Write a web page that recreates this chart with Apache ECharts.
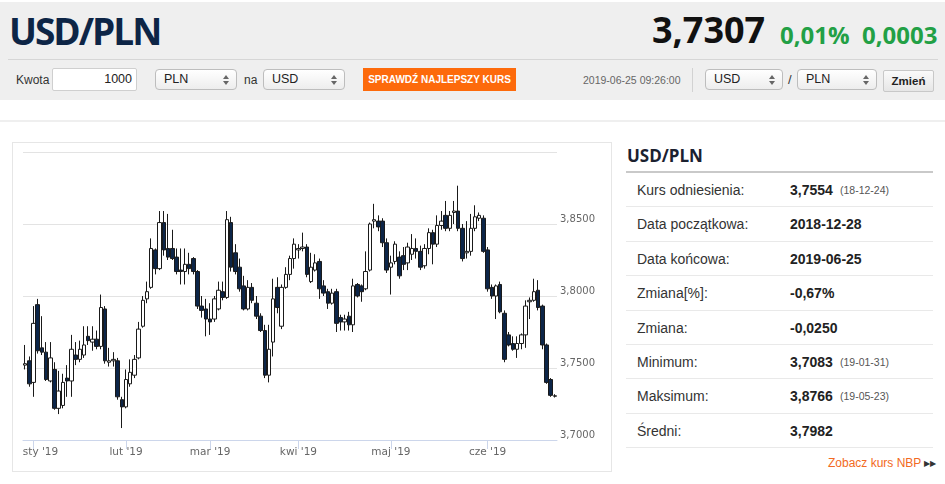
<!DOCTYPE html>
<html><head><meta charset="utf-8">
<script src="https://cdn.jsdelivr.net/npm/echarts@6/dist/echarts.min.js"></script>
<style>
body{margin:0;width:945px;height:484px;overflow:hidden;background:#fff;font-family:'Liberation Sans',Arial,sans-serif;position:relative}
.a{position:absolute;white-space:nowrap}
.sel{position:absolute;height:21px;border:1px solid #bdbdbd;border-radius:4px;background:linear-gradient(#ffffff,#ededed);font-size:12.5px;color:#222;line-height:19px;box-sizing:border-box;padding-left:8px}
.sel i{position:absolute;right:7px;width:0;height:0;border-left:3px solid transparent;border-right:3px solid transparent}
.sel i.u{top:5px;border-bottom:4px solid #666}
.sel i.d{top:11px;border-top:4px solid #666}
.row{position:absolute;left:626px;width:307px;height:34.4px;border-bottom:1px solid #e9e9e9;box-sizing:border-box;font-size:14px;color:#333}
.row span{position:absolute;top:0;line-height:34px}
.row .l{left:11px}
.row .v{left:164px;font-weight:bold;color:#222}
.row .s{left:214px;font-size:10.5px;color:#555}
</style></head><body>
<div class="a" style="left:0;top:2px;width:945px;height:98px;background:#efefef"></div>
<div class="a" style="left:9px;top:12px;font:700 37px/37px 'Open Sans';color:#0d2546;letter-spacing:-2px">USD/PLN</div>
<div class="a" style="left:652px;top:12px;font:700 36px/36px 'Open Sans';color:#111">3,7307</div>
<div class="a" style="left:780px;top:22.5px;font:700 24px/24px 'Open Sans';color:#22a045">0,01%</div>
<div class="a" style="left:862px;top:22.5px;font:700 24px/24px 'Open Sans';color:#22a045">0,0003</div>
<div class="a" style="left:8px;top:59px;width:930px;height:1px;background:#d6d6d6"></div>

<div class="a" style="left:16px;top:73px;font-size:12px;line-height:14px;color:#333">Kwota</div>
<div class="a" style="left:52px;top:68px;width:85px;height:23px;box-sizing:border-box;border:1px solid #cfcfcf;border-radius:2px;background:#fff;font-size:12.5px;line-height:21px;text-align:right;padding-right:4px;color:#222">1000</div>
<div class="sel" style="left:155px;top:69px;width:82px">PLN<i class="u"></i><i class="d"></i></div>
<div class="a" style="left:244px;top:73px;font-size:12px;line-height:14px;color:#333">na</div>
<div class="sel" style="left:263px;top:69px;width:82px">USD<i class="u"></i><i class="d"></i></div>
<div class="a" style="left:363px;top:68px;width:153px;height:23px;background:#fd6a0b;color:#fff;font-weight:bold;font-size:10px;line-height:23px;text-align:center">SPRAWDŹ NAJLEPSZY KURS</div>
<div class="a" style="left:583px;top:73px;font-size:10.5px;line-height:14px;color:#666">2019-06-25 09:26:00</div>
<div class="a" style="left:692px;top:68px;width:1px;height:24px;background:#d2d2d2"></div>
<div class="sel" style="left:705px;top:69px;width:78px">USD<i class="u"></i><i class="d"></i></div>
<div class="a" style="left:788px;top:73px;font-size:13px;line-height:14px;color:#333">/</div>
<div class="sel" style="left:797px;top:69px;width:80px">PLN<i class="u"></i><i class="d"></i></div>
<div class="a" style="left:883px;top:70px;width:51px;height:22px;box-sizing:border-box;border:1px solid #c8c8c8;border-radius:2px;background:linear-gradient(#fafafa,#e6e6e6);font-weight:bold;font-size:11.5px;line-height:20px;text-align:center;color:#222">Zmień</div>

<div class="a" style="left:0;top:120px;width:945px;height:2px;background:#efefef"></div>
<div class="a" style="left:12px;top:142px;width:598px;height:328px;border:1px solid #e6e6e6"></div>
<div id="c" class="a" style="left:12px;top:142px;width:599px;height:329px"></div>

<div class="a" style="left:627px;top:147px;font:700 17px/17px 'Open Sans';color:#1b2130">USD/PLN</div>
<div class="a" style="left:626px;top:171px;width:307px;height:2px;background:#c9c9c9"></div>
<div class="row" style="top:173px"><span class="l">Kurs odniesienia:</span><span class="v">3,7554</span><span class="s">(18-12-24)</span></div>
<div class="row" style="top:207.4px"><span class="l">Data początkowa:</span><span class="v">2018-12-28</span></div>
<div class="row" style="top:241.8px"><span class="l">Data końcowa:</span><span class="v">2019-06-25</span></div>
<div class="row" style="top:276.2px"><span class="l">Zmiana[%]:</span><span class="v">-0,67%</span></div>
<div class="row" style="top:310.6px"><span class="l">Zmiana:</span><span class="v">-0,0250</span></div>
<div class="row" style="top:345px"><span class="l">Minimum:</span><span class="v">3,7083</span><span class="s">(19-01-31)</span></div>
<div class="row" style="top:379.4px"><span class="l">Maksimum:</span><span class="v">3,8766</span><span class="s">(19-05-23)</span></div>
<div class="row" style="top:413.8px"><span class="l">Średni:</span><span class="v">3,7982</span></div>
<div class="a" style="left:828px;top:456px;font-size:12px;line-height:14px;color:#f26a22">Zobacz kurs NBP <span style="font-size:8px;color:#333;vertical-align:1px">▶▶</span></div>

<script>
const dates = [
'2018-12-28','2018-12-31',
'2019-01-02','2019-01-03','2019-01-04','2019-01-07','2019-01-08','2019-01-09','2019-01-10','2019-01-11',
'2019-01-14','2019-01-15','2019-01-16','2019-01-17','2019-01-18','2019-01-21','2019-01-22','2019-01-23','2019-01-24','2019-01-25',
'2019-01-28','2019-01-29','2019-01-30','2019-01-31',
'2019-02-01','2019-02-04','2019-02-05','2019-02-06','2019-02-07','2019-02-08','2019-02-11','2019-02-12','2019-02-13','2019-02-14','2019-02-15',
'2019-02-18','2019-02-19','2019-02-20','2019-02-21','2019-02-22','2019-02-25','2019-02-26','2019-02-27','2019-02-28',
'2019-03-01','2019-03-04','2019-03-05','2019-03-06','2019-03-07','2019-03-08','2019-03-11','2019-03-12','2019-03-13','2019-03-14','2019-03-15',
'2019-03-18','2019-03-19','2019-03-20','2019-03-21','2019-03-22','2019-03-25','2019-03-26','2019-03-27','2019-03-28','2019-03-29',
'2019-04-01','2019-04-02','2019-04-03','2019-04-04','2019-04-05','2019-04-08','2019-04-09','2019-04-10','2019-04-11','2019-04-12',
'2019-04-15','2019-04-16','2019-04-17','2019-04-18','2019-04-19','2019-04-22','2019-04-23','2019-04-24','2019-04-25','2019-04-26','2019-04-29','2019-04-30',
'2019-05-01','2019-05-02','2019-05-03','2019-05-06','2019-05-07','2019-05-08','2019-05-09','2019-05-10','2019-05-13','2019-05-14','2019-05-15','2019-05-16','2019-05-17',
'2019-05-20','2019-05-21','2019-05-22','2019-05-23','2019-05-24','2019-05-27','2019-05-28','2019-05-29','2019-05-30','2019-05-31',
'2019-06-03','2019-06-04','2019-06-05','2019-06-06','2019-06-07','2019-06-10','2019-06-11','2019-06-12','2019-06-13','2019-06-14',
'2019-06-17','2019-06-18','2019-06-19','2019-06-20','2019-06-21','2019-06-24','2019-06-25'
];
const opens = [
3.752,3.755,3.740,3.794,3.764,3.761,3.741,3.749,3.722,3.724,
3.743,3.741,3.759,3.756,3.759,3.772,3.768,3.770,3.765,3.791,
3.754,3.755,3.755,3.728,3.723,3.739,3.745,3.757,3.779,3.798,
3.806,3.832,3.819,3.851,3.833,3.833,3.827,3.818,3.817,3.822,
3.826,3.817,3.793,3.791,3.784,3.784,3.791,3.803,3.799,3.851,
3.830,3.820,3.807,3.791,3.806,3.795,3.786,3.776,3.745,3.768,
3.806,3.779,3.806,3.815,3.826,3.832,3.833,3.834,3.810,3.818,
3.824,3.807,3.803,3.795,3.803,3.785,3.782,3.786,3.780,3.808,
3.807,3.805,3.818,3.852,3.852,3.852,3.837,3.820,3.824,3.827,
3.828,3.823,3.829,3.833,3.831,3.821,3.833,3.844,3.836,3.849,
3.856,3.847,3.858,3.859,3.847,3.830,3.831,3.847,3.854,3.854,
3.832,3.806,3.800,3.808,3.788,3.773,3.767,3.763,3.767,3.773,
3.796,3.797,3.804,3.793,3.766,3.742,3.7304];
const closes = [
3.753,3.739,3.781,3.762,3.761,3.742,3.757,3.722,3.734,3.740,
3.741,3.763,3.756,3.763,3.766,3.769,3.770,3.765,3.792,3.755,
3.755,3.756,3.730,3.723,3.742,3.747,3.756,3.777,3.797,3.803,
3.833,3.819,3.851,3.832,3.827,3.826,3.817,3.817,3.822,3.819,
3.817,3.793,3.790,3.784,3.782,3.798,3.804,3.799,3.853,3.820,
3.817,3.805,3.791,3.806,3.797,3.786,3.776,3.745,3.763,3.798,
3.792,3.806,3.815,3.826,3.836,3.833,3.834,3.815,3.820,3.823,
3.805,3.802,3.795,3.802,3.781,3.782,3.784,3.780,3.807,3.800,
3.803,3.817,3.850,3.853,3.848,3.837,3.818,3.823,3.836,3.814,
3.822,3.834,3.833,3.831,3.820,3.833,3.844,3.836,3.849,3.852,
3.847,3.856,3.859,3.847,3.826,3.831,3.847,3.855,3.856,3.831,
3.805,3.800,3.807,3.789,3.756,3.766,3.763,3.767,3.773,3.793,
3.797,3.803,3.792,3.766,3.740,3.731,3.7307];
const lows = [
3.749,3.737,3.730,3.760,3.759,3.741,3.740,3.721,3.718,3.722,
3.730,3.730,3.752,3.754,3.757,3.766,3.762,3.763,3.763,3.753,
3.751,3.751,3.728,3.7083,3.722,3.737,3.743,3.756,3.778,3.795,
3.805,3.815,3.818,3.828,3.825,3.825,3.815,3.808,3.808,3.815,
3.815,3.791,3.785,3.772,3.773,3.782,3.790,3.797,3.798,3.817,
3.815,3.803,3.790,3.790,3.795,3.784,3.775,3.743,3.740,3.758,
3.788,3.777,3.805,3.811,3.819,3.826,3.831,3.813,3.809,3.817,
3.798,3.800,3.791,3.794,3.775,3.776,3.776,3.776,3.775,3.799,
3.796,3.804,3.817,3.847,3.845,3.834,3.816,3.801,3.822,3.812,
3.818,3.818,3.825,3.826,3.818,3.819,3.829,3.822,3.834,3.846,
3.845,3.845,3.850,3.845,3.824,3.826,3.828,3.845,3.852,3.830,
3.803,3.798,3.784,3.788,3.754,3.765,3.762,3.757,3.763,3.764,
3.784,3.796,3.790,3.763,3.739,3.730,3.7295];
const highs = [
3.766,3.758,3.793,3.798,3.786,3.768,3.768,3.754,3.748,3.746,
3.752,3.773,3.768,3.769,3.779,3.779,3.779,3.776,3.801,3.793,
3.764,3.761,3.757,3.730,3.749,3.756,3.759,3.782,3.800,3.810,
3.840,3.833,3.859,3.859,3.857,3.846,3.833,3.833,3.833,3.830,
3.827,3.818,3.800,3.798,3.795,3.800,3.810,3.810,3.859,3.855,
3.836,3.826,3.814,3.811,3.809,3.800,3.788,3.780,3.780,3.812,
3.813,3.808,3.820,3.828,3.840,3.836,3.844,3.836,3.830,3.829,
3.826,3.811,3.805,3.805,3.805,3.787,3.787,3.789,3.812,3.809,
3.808,3.831,3.851,3.864,3.856,3.854,3.840,3.828,3.838,3.831,
3.834,3.837,3.843,3.840,3.835,3.836,3.847,3.846,3.856,3.859,
3.866,3.859,3.866,3.8766,3.850,3.852,3.857,3.863,3.858,3.856,
3.834,3.808,3.808,3.810,3.790,3.775,3.772,3.772,3.774,3.797,
3.799,3.812,3.811,3.794,3.767,3.743,3.7318];
const tickDates = ['2019-01-02','2019-02-01','2019-03-01','2019-04-01','2019-05-01','2019-06-03'];
const tickLabels = ["sty '19","lut '19","mar '19","kwi '19","maj '19","cze '19"];
const yMin = 3.70, yMax = 3.90, yStep = 0.05;

const chart = echarts.init(document.getElementById('c'), null, {renderer:'canvas'});
const isTick = (i, v) => tickDates.indexOf(v) >= 0;
chart.setOption({
  animation: false,
  grid: {left: 11, right: 54, top: 10, bottom: 31},
  xAxis: {
    type: 'category', data: dates, boundaryGap: true,
    axisLine: {lineStyle: {color: '#ccd6eb'}},
    axisTick: {show: true, alignWithLabel: true, interval: isTick, length: 9, lineStyle: {color: '#ccd6eb'}},
    axisLabel: {
      interval: isTick, margin: 7, color: '#666', fontSize: 10.5, fontFamily: 'DejaVu Sans',
      formatter: function (v) {
        const k = tickDates.indexOf(v);
        if (k < 0) return '';
        return k === 0 ? '{f|' + tickLabels[k] + '}' : tickLabels[k];
      },
      rich: {f: {padding: [0, 0, 0, 14], color: '#666', fontSize: 10.5, fontFamily: 'DejaVu Sans'}}
    },
    splitLine: {show: false}
  },
  yAxis: {
    type: 'value', position: 'right', min: yMin, max: yMax, interval: yStep,
    axisLine: {show: false}, axisTick: {show: false},
    splitLine: {lineStyle: {color: '#e3e3e3'}},
    axisLabel: {
      showMaxLabel: false, margin: 3, color: '#666', fontSize: 10, fontFamily: 'DejaVu Sans', verticalAlign: 'bottom',
      formatter: v => v.toFixed(4).replace('.', ',')
    }
  },
  series: [{
    type: 'candlestick',
    data: dates.map((d, i) => [opens[i], closes[i], lows[i], highs[i]]),
    barWidth: 4,
    itemStyle: {color: '#ffffff', color0: '#0c2548', borderColor: '#1a1a1a', borderColor0: '#1a1a1a', borderWidth: 1}
  }]
});
</script>
</body></html>
